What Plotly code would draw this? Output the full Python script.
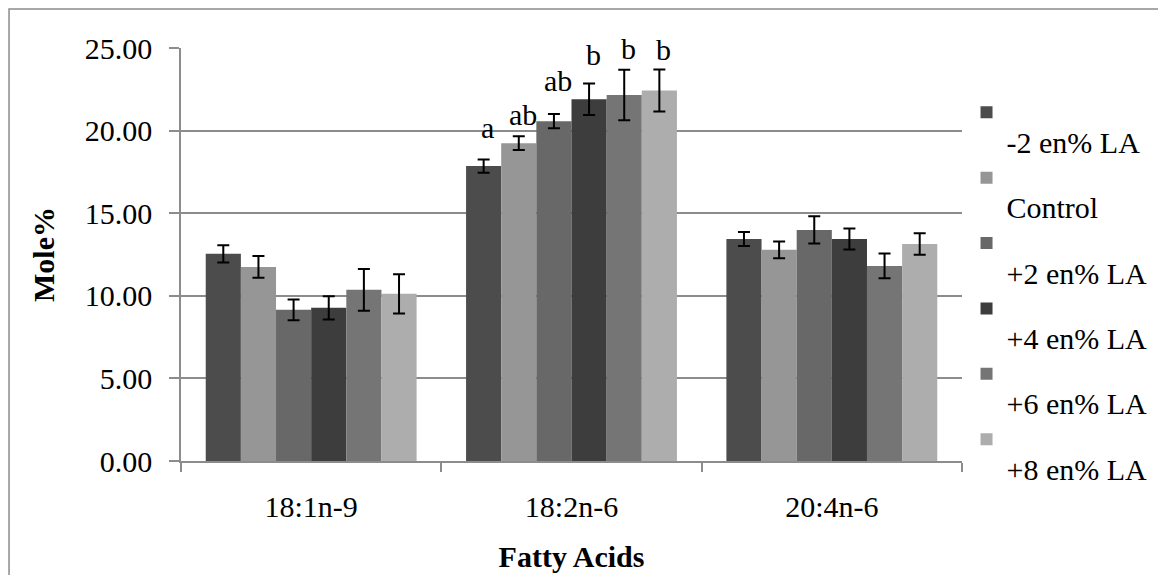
import plotly.graph_objects as go

categories = ["18:1n-9", "18:2n-6", "20:4n-6"]
series_names = ["-2 en% LA", "Control", "+2 en% LA", "+4 en% LA", "+6 en% LA", "+8 en% LA"]
values = [
    [12.54, 17.85, 13.44],
    [11.75, 19.24, 12.78],
    [9.15, 20.57, 13.99],
    [9.27, 21.90, 13.44],
    [10.36, 22.15, 11.81],
    [10.12, 22.43, 13.14],
]
errors = [
    [0.52, 0.40, 0.42],
    [0.66, 0.42, 0.50],
    [0.63, 0.43, 0.83],
    [0.70, 0.95, 0.63],
    [1.26, 1.53, 0.75],
    [1.19, 1.27, 0.65],
]
colors = ["#4c4c4c", "#969696", "#686868", "#3d3d3d", "#757575", "#adadad"]
y_ticks = [0, 5, 10, 15, 20, 25]
# significance letters above the 18:2n-6 group
letters = ["a", "ab", "ab", "b", "b", "b"]
letter_y = [19.05, 19.85, 21.9, 23.5, 23.85, 23.8]
letter_category = 1

FONT = "Liberation Serif"
BARGAP = 0.19

fig = go.Figure()
for name, vals, errs, col in zip(series_names, values, errors, colors):
    fig.add_trace(go.Bar(
        x=categories, y=vals,
        name=f"<br><span style='font-size:30px'>{name}</span>",
        marker=dict(color=col, line=dict(width=0)),
        error_y=dict(type="data", array=errs, visible=True, color="black",
                     thickness=2, width=6),
        legendgroup=name,
    ))

n = len(series_names)
bw = (1 - BARGAP) / n
for i, (lt, ly) in enumerate(zip(letters, letter_y)):
    fig.add_annotation(
        x=letter_category + (i - (n - 1) / 2) * bw, y=ly, xref="x", yref="y",
        text=lt, showarrow=False, yanchor="bottom", xshift=4,
        font=dict(family=FONT, size=30, color="black"),
    )

# outer chart frame (top and left edges visible)
fig.add_shape(type="rect", xref="paper", yref="paper",
              x0=-0.2202, x1=1.29, y0=-0.35, y1=1.0945,
              line=dict(color="#8c8c8c", width=1.5), fillcolor="rgba(0,0,0,0)", layer="below")

fig.update_layout(
    width=1166, height=575,
    margin=dict(l=173, r=212, t=40, b=121.5, autoexpand=False),
    paper_bgcolor="white", plot_bgcolor="white",
    barmode="group", bargap=BARGAP, bargroupgap=0,
    font=dict(family=FONT, size=30, color="black"),
    showlegend=True,
    legend=dict(
        x=1.0058, xanchor="left", y=0.898, yanchor="top",
        font=dict(family=FONT, size=24, color="black"),
        valign="top", tracegroupgap=0, bgcolor="rgba(0,0,0,0)",
        borderwidth=0,
    ),
    xaxis=dict(
        showline=True, linecolor="#8c8c8c", linewidth=1.5,
        ticks="outside", tickson="boundaries", ticklen=9, tickcolor="#8c8c8c",
        tickwidth=1.5, ticklabelstandoff=18,
        tickfont=dict(family=FONT, size=30),
        title=dict(text="<b>Fatty Acids</b>", font=dict(family=FONT, size=30), standoff=24),
        range=[-0.5, 2.5],
    ),
    yaxis=dict(
        range=[0, 25], tickvals=y_ticks, tickformat=".2f",
        showline=True, linecolor="#8c8c8c", linewidth=1.5,
        ticks="outside", ticklen=10, tickcolor="#8c8c8c", tickwidth=1.5,
        ticklabelstandoff=11,
        showgrid=True, gridcolor="#8c8c8c", gridwidth=1.5,
        zeroline=False,
        tickfont=dict(family=FONT, size=30),
        title=dict(text="<b>Mole%</b>", font=dict(family=FONT, size=30), standoff=21),
    ),
)

fig.write_html("out.html")
